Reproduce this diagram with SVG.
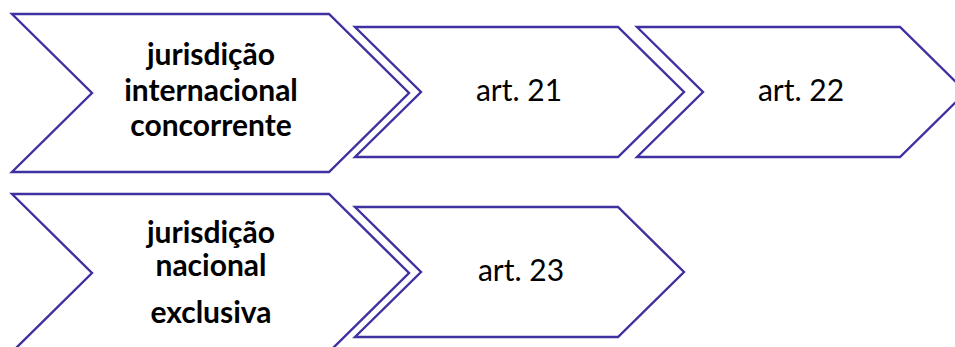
<svg xmlns="http://www.w3.org/2000/svg" width="955" height="347" viewBox="0 0 955 347">
  <style>
    .chev { fill: #ffffff; stroke: #3f32a0; stroke-width: 2.4; stroke-linejoin: miter; }
    .bold { font-family: Lato, "Open Sans", "Liberation Sans", sans-serif; font-weight: bold; font-size: 30px; fill: #000; text-anchor: middle; }
    .reg { font-family: Lato, "Open Sans", "Liberation Sans", sans-serif; font-size: 30px; fill: #000; text-anchor: middle; }
  </style>
  <rect width="955" height="347" fill="#ffffff"/>
  <g id="connectors"/>
  <g id="node-jic">
    <polygon class="chev" points="12,14 329,14 409,93 329,172 12,172 92,93"/>
    <text class="bold" x="211" y="65">jurisdição</text>
    <text class="bold" x="211" y="101">internacional</text>
    <text class="bold" x="211" y="136">concorrente</text>
  </g>
  <g id="node-art21">
    <polygon class="chev" points="355,27 618,27 684,92 618,157 355,157 421,92"/>
    <text class="reg" x="519" y="101">art. 21</text>
  </g>
  <g id="node-art22">
    <polygon class="chev" points="637,27 900,27 966,92 900,157 637,157 703,92"/>
    <text class="reg" x="801" y="101">art. 22</text>
  </g>
  <g id="node-jne">
    <polygon class="chev" points="12,194 329,194 409,273 329,352 12,352 92,273"/>
    <text class="bold" x="211" y="243">jurisdição</text>
    <text class="bold" x="211" y="276">nacional</text>
    <text class="bold" x="211" y="323">exclusiva</text>
  </g>
  <g id="node-art23">
    <polygon class="chev" points="355,207 618,207 684,272 618,337 355,337 421,272"/>
    <text class="reg" x="521" y="281">art. 23</text>
  </g>
</svg>
